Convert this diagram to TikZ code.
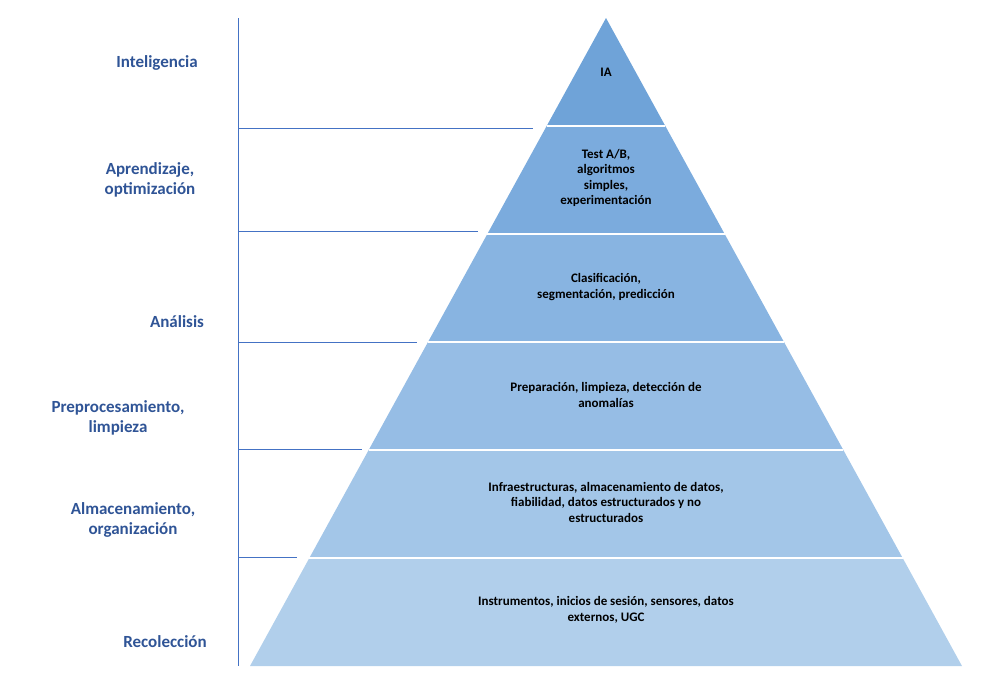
\documentclass[tikz,border=0pt]{standalone}
\usepackage{fontspec}
\setmainfont{Carlito}
\begin{document}
\begin{tikzpicture}[x=1pt,y=-1pt,
  lab/.style={font=\bfseries\fontsize{17}{20}\selectfont,text=blue!40!black!60!cyan!0,align=center},
  inl/.style={font=\bfseries\fontsize{13}{15.5}\selectfont,align=center,text=black},
  hline/.style={draw=blue!45!black!70!white,line width=0.7pt}]
\useasboundingbox (0,0) rectangle (996,681);
\definecolor{lab}{HTML}{2F5496}
\definecolor{hl}{HTML}{4472C4}
\tikzset{lab/.append style={text=lab},hline/.style={draw=hl,line width=0.8pt}}
\def\ax{606}\def\ay{18}
% layers
\foreach \t/\b/\c in {18/126/6FA3D8,126/234/7BABDD,234/342/88B4E1,342/450/96BDE5,450/558/A3C6E8,558/666/B1CFEB}{
  \pgfmathsetmacro\tl{606-0.54938*(\t-18)}
  \pgfmathsetmacro\tr{606+0.54938*(\t-18)}
  \pgfmathsetmacro\bl{606-0.54938*(\b-18)}
  \pgfmathsetmacro\br{606+0.54938*(\b-18)}
  \definecolor{cc}{HTML}{\c}
  \fill[cc] (\tl,\t) -- (\tr,\t) -- (\br,\b) -- (\bl,\b) -- cycle;
}
\foreach \y in {126,234,342,450,558}{
  \pgfmathsetmacro\l{606-0.54938*(\y-18)}
  \pgfmathsetmacro\r{606+0.54938*(\y-18)}
  \draw[white,line width=1.5pt] (\l,\y) -- (\r,\y);
}
\node[inl] (t1) at (606,72) {IA};
\node[inl] (t2) at (606,178) {Test A/B,\\algoritmos\\simples,\\experimentación};
\node[inl] (t3) at (606,287) {Clasificación,\\segmentación, predicción};
\node[inl] (t4) at (606,395) {Preparación, limpieza, detección de\\anomalías};
\node[inl] (t5) at (606,502) {Infraestructuras, almacenamiento de datos,\\fiabilidad, datos estructurados y no\\estructurados};
\node[inl] (t6) at (606,610) {Instrumentos, inicios de sesión, sensores, datos\\externos, UGC};
% axis lines
\coordinate (v0) at (238,18); \coordinate (v1) at (238,666);
\draw[hline] (v0) -- (v1);
\foreach \y/\x [count=\i] in {128/533,231/478,342/417,449/362,557/297}{
  \coordinate (h\i a) at (238,\y); \coordinate (h\i b) at (\x,\y);
  \draw[hline] (h\i a) -- (h\i b);
}
\node[lab] (l1) at (157,63) {Inteligencia};
\node[lab] (l2) at (150,180) {Aprendizaje,\\optimización};
\node[lab] (l3) at (177,322) {Análisis};
\node[lab] (l4) at (118,418) {Preprocesamiento,\\limpieza};
\node[lab] (l5) at (133,520) {Almacenamiento,\\organización};
\node[lab] (l6) at (165,642) {Recolección};
\end{tikzpicture}
\end{document}
